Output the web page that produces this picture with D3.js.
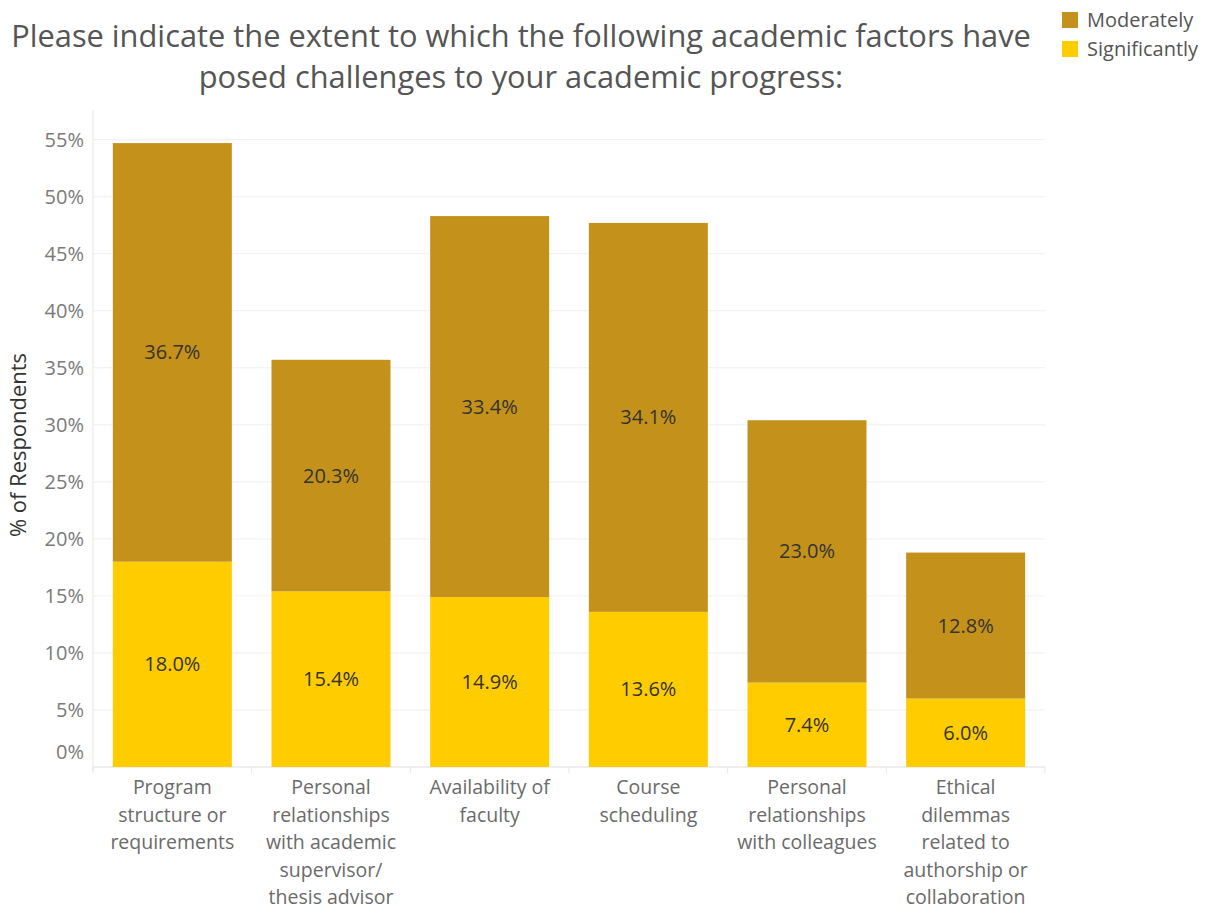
<!DOCTYPE html>
<html><head><meta charset="utf-8">
<script src="https://cdn.jsdelivr.net/npm/d3@7"></script>
<style>body{margin:0;background:#fff}svg{display:block}</style>
</head><body>
<svg id="c" width="1215" height="909"></svg>
<script>
const categories = [
  ["Program","structure or","requirements"],
  ["Personal","relationships","with academic","supervisor/","thesis advisor"],
  ["Availability of","faculty"],
  ["Course","scheduling"],
  ["Personal","relationships","with colleagues"],
  ["Ethical","dilemmas","related to","authorship or","collaboration"]
];
const significantly = [18.0, 15.4, 14.9, 13.6, 7.4, 6.0];
const moderately = [36.7, 20.3, 33.4, 34.1, 23.0, 12.8];
const yTicks = [0,5,10,15,20,25,30,35,40,45,50,55];
const seriesNames = ["Moderately","Significantly"];
const colors = {Moderately:"#C4911A", Significantly:"#FFCC00"};

const font = "'Open Sans', sans-serif";
const svg = d3.select("#c");
const plotLeft = 93, plotRight = 1045, plotTop = 110, plotBottom = 767;

function fitWidth(sel, target) {
  sel.each(function(){
    const fs = parseFloat(this.getAttribute("font-size"));
    const w = this.getComputedTextLength();
    if (w > 0) this.setAttribute("font-size", (fs * target / w).toFixed(2));
  });
}

const x = d3.scaleBand().domain(d3.range(categories.length)).range([plotLeft, plotRight]).paddingInner(0.25).paddingOuter(0.125);
const y = d3.scaleLinear().domain([0, 57.6]).range([plotBottom, plotTop]);

// gridlines
svg.append("g").selectAll("line").data(yTicks).join("line")
  .attr("x1", plotLeft).attr("x2", plotRight).attr("y1", d=>y(d)).attr("y2", d=>y(d))
  .attr("stroke", "#efefef").attr("stroke-width", 1);
// axis lines
svg.append("line").attr("x1", plotLeft).attr("x2", plotLeft).attr("y1", plotTop).attr("y2", plotBottom+3).attr("stroke","#e6e6e6");
svg.append("line").attr("x1", plotLeft).attr("x2", plotRight).attr("y1", plotBottom).attr("y2", plotBottom).attr("stroke","#e6e6e6");
// category dividers
const step = x.step();
svg.append("g").selectAll("line").data(d3.range(categories.length+1)).join("line")
  .attr("x1", i=>plotLeft + i*step).attr("x2", i=>plotLeft + i*step)
  .attr("y1", plotBottom).attr("y2", plotBottom+6).attr("stroke","#e6e6e6");

// y tick labels
svg.append("g").selectAll("text").data(yTicks).join("text")
  .attr("x", 84).attr("y", d=> d===0 ? y(d)-15 : y(d))
  .attr("dy","0.35em").attr("text-anchor","end")
  .attr("font-family", font).attr("font-size", 20).attr("fill","#7a7a7a")
  .text(d=>d+"%");

// y axis title
const yt = svg.append("text").attr("transform","translate(26,445) rotate(-90)")
  .attr("text-anchor","middle").attr("font-family", font).attr("font-size",18)
  .attr("fill","#333").text("% of Respondents");
fitWidth(yt, 184);

// bars
const stacked = categories.map((c,i)=>({i, sig: significantly[i], mod: moderately[i]}));
const g = svg.append("g");
g.selectAll("rect.sig").data(stacked).join("rect").attr("class","sig")
  .attr("x", d=>x(d.i)).attr("width", x.bandwidth())
  .attr("y", d=>y(d.sig)).attr("height", d=>y(0)-y(d.sig))
  .attr("fill", colors.Significantly);
g.selectAll("rect.mod").data(stacked).join("rect").attr("class","mod")
  .attr("x", d=>x(d.i)).attr("width", x.bandwidth())
  .attr("y", d=>y(d.sig+d.mod)).attr("height", d=>y(d.sig)-y(d.sig+d.mod))
  .attr("fill", colors.Moderately);

// value labels
g.selectAll("text.sigl").data(stacked).join("text")
  .attr("x", d=>x(d.i)+x.bandwidth()/2).attr("y", d=>y(d.sig/2))
  .attr("dy","0.35em").attr("text-anchor","middle")
  .attr("font-family", font).attr("font-size",20).attr("fill","#333")
  .text(d=>d.sig.toFixed(1)+"%");
g.selectAll("text.modl").data(stacked).join("text")
  .attr("x", d=>x(d.i)+x.bandwidth()/2).attr("y", d=>y(d.sig + d.mod/2))
  .attr("dy","0.35em").attr("text-anchor","middle")
  .attr("font-family", font).attr("font-size",20).attr("fill","#333")
  .text(d=>d.mod.toFixed(1)+"%");

// x labels
const xl = svg.append("g").selectAll("text").data(categories).join("text")
  .attr("x", (d,i)=>x(i)+x.bandwidth()/2).attr("y", 794)
  .attr("text-anchor","middle").attr("font-family", font).attr("font-size",19.5).attr("fill","#6a6a6a");
xl.selectAll("tspan").data(d=>d).join("tspan")
  .attr("x", function(){return this.parentNode.getAttribute("x");})
  .attr("dy", (d,j)=> j===0 ? 0 : 27.6).text(d=>d);

// title
const title = ["Please indicate the extent to which the following academic factors have","posed challenges to your academic progress:"];
const tt = svg.append("g").selectAll("text").data(title).join("text")
  .attr("x", 521).attr("y", (d,i)=>47 + i*41).attr("text-anchor","middle")
  .attr("font-family", font).attr("font-size",29).attr("fill","#555").text(d=>d);
fitWidth(tt.filter((d,i)=>i===0), 1020);
tt.filter((d,i)=>i===1).attr("font-size", tt.filter((d,i)=>i===0).attr("font-size"));

// legend
const lg = svg.append("g").selectAll("g").data(seriesNames).join("g")
  .attr("transform",(d,i)=>`translate(1062,${12+i*29})`);
lg.append("rect").attr("width",16).attr("height",16).attr("fill",d=>colors[d]);
const lt = lg.append("text").attr("x",25).attr("y",8).attr("dy","0.35em")
  .attr("font-family", font).attr("font-size",20).attr("fill","#555").text(d=>d);
</script>
</body></html>
